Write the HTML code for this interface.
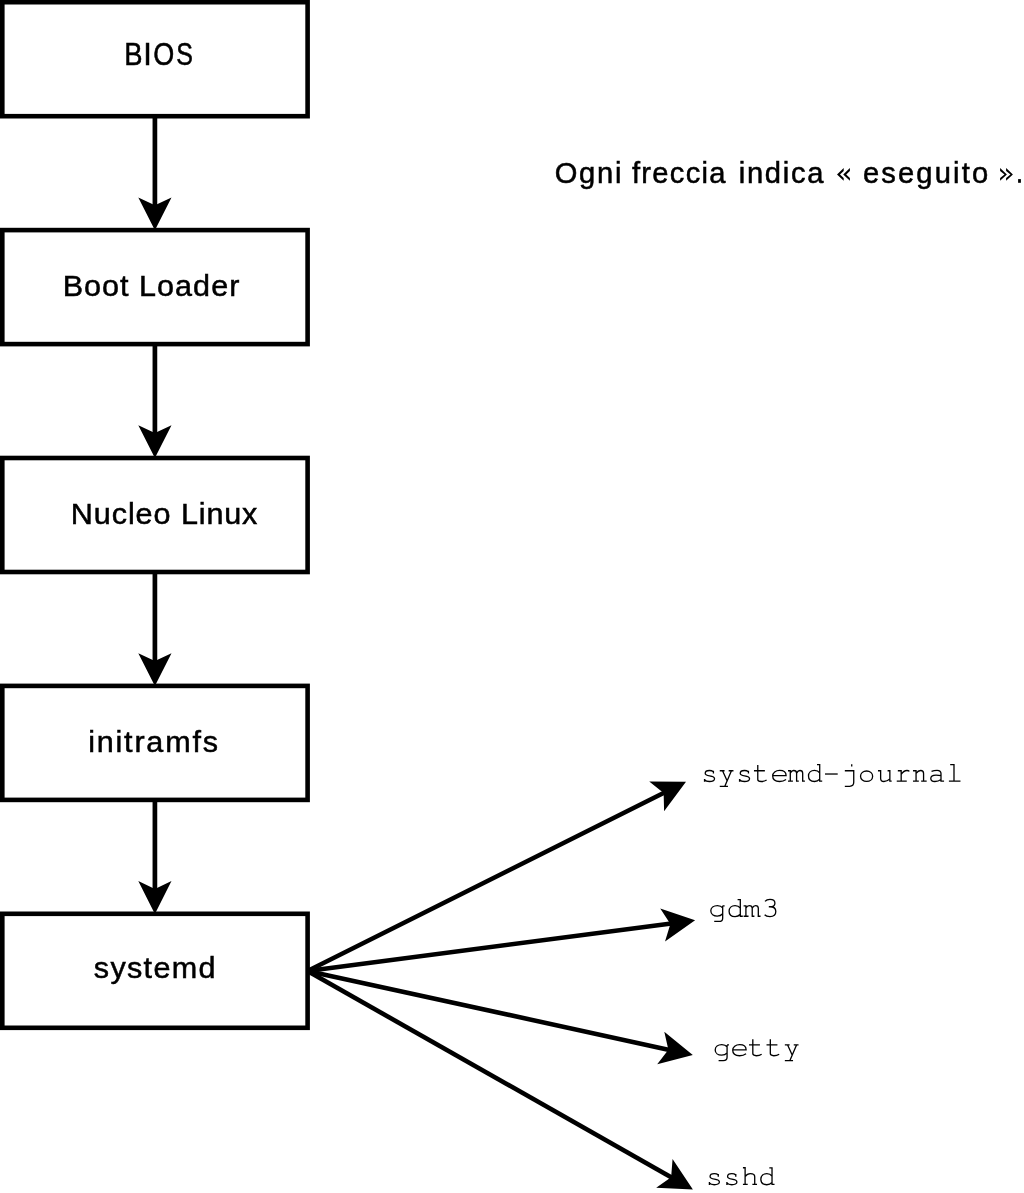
<!DOCTYPE html>
<html><head><meta charset="utf-8"><style>
html,body{margin:0;padding:0;background:#fff;width:1024px;height:1193px;overflow:hidden}
svg{display:block;will-change:transform}
.s{font-family:"Liberation Sans",sans-serif}
.m{font-family:"Liberation Mono",monospace}
</style></head><body>
<svg width="1024" height="1193" viewBox="0 0 1024 1193">
<rect x="0" y="0" width="1024" height="1193" fill="#fff"/>
<rect x="2.3" y="2.2" width="305.3" height="114" fill="none" stroke="#000" stroke-width="4.6"/>
<rect x="2.3" y="230.1" width="305.3" height="114" fill="none" stroke="#000" stroke-width="4.6"/>
<rect x="2.3" y="458" width="305.3" height="114" fill="none" stroke="#000" stroke-width="4.6"/>
<rect x="2.3" y="685.9" width="305.3" height="114" fill="none" stroke="#000" stroke-width="4.6"/>
<rect x="2.3" y="913.8" width="305.3" height="114" fill="none" stroke="#000" stroke-width="4.6"/>
<line x1="154.9" y1="117.5" x2="154.9" y2="206.2" stroke="#000" stroke-width="4.7"/>
<polygon points="154.9,230.2 138.3,197.4 154.9,205.2 171.5,197.4" fill="#000"/>
<line x1="154.9" y1="345.4" x2="154.9" y2="434.1" stroke="#000" stroke-width="4.7"/>
<polygon points="154.9,458.1 138.3,425.3 154.9,433.1 171.5,425.3" fill="#000"/>
<line x1="154.9" y1="573.3" x2="154.9" y2="662" stroke="#000" stroke-width="4.7"/>
<polygon points="154.9,686 138.3,653.2 154.9,661 171.5,653.2" fill="#000"/>
<line x1="154.9" y1="801.2" x2="154.9" y2="889.9" stroke="#000" stroke-width="4.7"/>
<polygon points="154.9,913.9 138.3,881.1 154.9,888.9 171.5,881.1" fill="#000"/>
<line x1="307.5" y1="971" x2="664.53" y2="792.44" stroke="#000" stroke-width="4.6"/>
<polygon points="686,781.7 664.09,811.22 663.64,792.88 649.24,781.52" fill="#000"/>
<line x1="307.5" y1="971" x2="671.3" y2="923.41" stroke="#000" stroke-width="4.6"/>
<polygon points="695.1,920.3 665.02,941.44 670.36,923.89 660.26,908.58" fill="#000"/>
<line x1="307.5" y1="971" x2="669.35" y2="1049.89" stroke="#000" stroke-width="4.6"/>
<polygon points="692.8,1055 657.22,1064.23 668.37,1049.67 664.29,1031.79" fill="#000"/>
<line x1="307.5" y1="971" x2="672.02" y2="1177.76" stroke="#000" stroke-width="4.6"/>
<polygon points="692.9,1189.6 656.18,1187.86 671.15,1177.27 672.56,1158.98" fill="#000"/>
<text class="s" transform="translate(124.14 64.90) scale(0.9313 1.0550)" font-size="29.4" letter-spacing="0.000" stroke="#000" stroke-width="0.5">B</text>
<text class="s" transform="translate(143.20 64.90) scale(1.0500 1.0550)" font-size="29.4" letter-spacing="0.000" stroke="#000" stroke-width="0.5">I</text>
<text class="s" transform="translate(153.18 64.90) scale(0.9190 1.0550)" font-size="29.4" letter-spacing="0.000" stroke="#000" stroke-width="0.5">O</text>
<text class="s" transform="translate(176.15 64.90) scale(0.8500 1.0550)" font-size="29.4" letter-spacing="0.000" stroke="#000" stroke-width="0.5">S</text>
<text class="s" transform="translate(62.82 295.80) scale(1.0400 0.9955)" font-size="29.4" letter-spacing="0.878" stroke="#000" stroke-width="0.5">Boot</text>
<text class="s" transform="translate(138.92 295.80) scale(1.0400 0.9955)" font-size="29.4" letter-spacing="1.027" stroke="#000" stroke-width="0.5">Loader</text>
<text class="s" transform="translate(70.82 523.90) scale(1.0400 0.9909)" font-size="29.4" letter-spacing="0.873" stroke="#000" stroke-width="0.5">Nucleo</text>
<text class="s" transform="translate(180.92 523.90) scale(1.0400 0.9909)" font-size="29.4" letter-spacing="0.813" stroke="#000" stroke-width="0.5">Linux</text>
<text class="s" transform="translate(88.17 751.50) scale(1.0400 0.9773)" font-size="29.4" letter-spacing="1.722" stroke="#000" stroke-width="0.5">initramfs</text>
<text class="s" transform="translate(93.86 977.90) scale(1.0400 1.0000)" font-size="29.4" letter-spacing="1.253" stroke="#000" stroke-width="0.5">systemd</text>
<text class="s" transform="translate(554.66 182.80) scale(1.0400 1.0850)" font-size="28" letter-spacing="1.673" stroke="#000" stroke-width="0.5">Ogni</text>
<text class="s" transform="translate(631.90 182.80) scale(1.0400 1.0850)" font-size="28" letter-spacing="1.263" stroke="#000" stroke-width="0.5">freccia</text>
<text class="s" transform="translate(738.72 182.80) scale(1.0400 1.0850)" font-size="28" letter-spacing="1.646" stroke="#000" stroke-width="0.5">indica</text>
<text class="s" transform="translate(862.96 182.80) scale(1.0400 1.0850)" font-size="28" letter-spacing="2.066" stroke="#000" stroke-width="0.5">eseguito</text>
<g fill="none" stroke="#000" stroke-width="45"><path transform="translate(700.85 781.7) scale(0.0291 -0.0291)" d="M 432,278 L 432,376 M 432,344 C 395,372 350,385 295,385 C 205,385 150,347 150,291 C 150,229 210,213 300,199 C 400,184 470,163 470,102 C 470,39 400,6 295,6 C 215,6 160,28 127,67 M 127,-2 L 127,97"/><path transform="translate(718.36 781.7) scale(0.0291 -0.0291)" d="M 48,376 L 213,376 M 354,376 L 519,376 M 144,376 L 300,32 M 450,376 L 222,-160 M 48,-160 L 330,-160"/><path transform="translate(735.87 781.7) scale(0.0291 -0.0291)" d="M 432,278 L 432,376 M 432,344 C 395,372 350,385 295,385 C 205,385 150,347 150,291 C 150,229 210,213 300,199 C 400,184 470,163 470,102 C 470,39 400,6 295,6 C 215,6 160,28 127,67 M 127,-2 L 127,97"/><path transform="translate(753.38 781.7) scale(0.0291 -0.0291)" d="M 151,575 L 151,79 C 151,30 190,6 270,6 C 345,6 405,23 455,56 M 20,376 L 395,376"/><path transform="translate(770.89 781.7) scale(0.0291 -0.0291)" d="M 62,210 L 522,210 C 522,319 430,387 300,387 C 165,387 62,305 62,194 C 62,76 160,6 300,6 C 390,6 460,28 520,74"/><path transform="translate(788.40 781.7) scale(0.0291 -0.0291)" d="M -14,376 L 65,376 L 65,18 M 65,296 C 95,356 135,385 180,385 C 245,385 282,352 282,291 L 282,18 M 282,296 C 312,356 352,385 397,385 C 460,385 491,352 491,291 L 491,18 M -14,18 L 155,18 M 261,18 L 357,18 M 467,18 L 567,18"/><path transform="translate(805.91 781.7) scale(0.0291 -0.0291)" d="M 381,588 L 474,588 L 474,18 L 560,18 M 474,301 C 430,361 370,387 295,387 C 170,387 89,305 89,194 C 89,81 170,6 295,6 C 370,6 430,37 474,88"/><path transform="translate(823.42 781.7) scale(0.0291 -0.0291)" d="M 55,264 L 491,264"/><path transform="translate(840.93 781.7) scale(0.0291 -0.0291)" d="M 371,520 L 371,600 M 134,376 L 440,376 L 440,-23 C 440,-117 390,-160 300,-160 L 134,-160"/><path transform="translate(858.44 781.7) scale(0.0291 -0.0291)" d="M 280,11 C 165,11 72,83 72,190 C 72,296 165,368 280,368 C 395,368 488,296 488,190 C 488,83 395,11 280,11 Z"/><path transform="translate(875.95 781.7) scale(0.0291 -0.0291)" d="M 69,376 L 161,376 L 161,111 C 161,37 200,6 275,6 C 360,6 425,42 478,97 M 400,376 L 478,376 L 478,18 L 540,18"/><path transform="translate(893.46 781.7) scale(0.0291 -0.0291)" d="M 150,376 L 265,376 L 265,18 M 113,18 L 457,18 M 265,250 C 320,338 390,385 465,385 C 505,385 532,372 548,353"/><path transform="translate(910.97 781.7) scale(0.0291 -0.0291)" d="M 69,376 L 175,376 L 175,18 M 69,18 L 270,18 M 175,282 C 220,350 272,385 335,385 C 400,385 433,350 433,282 L 433,18 M 350,18 L 540,18"/><path transform="translate(928.48 781.7) scale(0.0291 -0.0291)" d="M 105,356 C 160,376 225,387 295,387 C 385,387 430,352 430,278 L 430,18 L 536,18 M 430,208 C 370,222 320,227 260,227 C 150,227 79,185 79,111 C 79,46 130,6 220,6 C 300,6 375,32 430,74"/><path transform="translate(945.99 781.7) scale(0.0291 -0.0291)" d="M 144,590 L 275,590 L 275,18 M 100,18 L 498,18"/></g>
<g fill="none" stroke="#000" stroke-width="45"><path transform="translate(709.00 916.8) scale(0.0291 -0.0291)" d="M 470,376 L 536,376 M 470,376 L 470,-47 C 470,-126 420,-160 340,-160 L 179,-160 M 470,310 C 430,363 370,387 290,387 C 160,387 62,314 62,205 C 62,96 160,26 282,26 C 362,26 430,57 470,104"/><path transform="translate(726.51 916.8) scale(0.0291 -0.0291)" d="M 381,588 L 474,588 L 474,18 L 560,18 M 474,301 C 430,361 370,387 295,387 C 170,387 89,305 89,194 C 89,81 170,6 295,6 C 370,6 430,37 474,88"/><path transform="translate(744.02 916.8) scale(0.0291 -0.0291)" d="M -14,376 L 65,376 L 65,18 M 65,296 C 95,356 135,385 180,385 C 245,385 282,352 282,291 L 282,18 M 282,296 C 312,356 352,385 397,385 C 460,385 491,352 491,291 L 491,18 M -14,18 L 155,18 M 261,18 L 357,18 M 467,18 L 567,18"/><path transform="translate(761.53 916.8) scale(0.0291 -0.0291)" d="M120,528 C160,578 220,600 290,600 C390,600 460,545 460,468 C460,390 390,345 290,345 L250,345 M290,345 C420,345 490,280 490,180 C490,70 410,6 290,6 C210,6 140,30 107,70"/></g>
<g fill="none" stroke="#000" stroke-width="45"><path transform="translate(713.40 1055.9) scale(0.0291 -0.0291)" d="M 470,376 L 536,376 M 470,376 L 470,-47 C 470,-126 420,-160 340,-160 L 179,-160 M 470,310 C 430,363 370,387 290,387 C 160,387 62,314 62,205 C 62,96 160,26 282,26 C 362,26 430,57 470,104"/><path transform="translate(730.91 1055.9) scale(0.0291 -0.0291)" d="M 62,210 L 522,210 C 522,319 430,387 300,387 C 165,387 62,305 62,194 C 62,76 160,6 300,6 C 390,6 460,28 520,74"/><path transform="translate(748.42 1055.9) scale(0.0291 -0.0291)" d="M 151,575 L 151,79 C 151,30 190,6 270,6 C 345,6 405,23 455,56 M 20,376 L 395,376"/><path transform="translate(765.93 1055.9) scale(0.0291 -0.0291)" d="M 151,575 L 151,79 C 151,30 190,6 270,6 C 345,6 405,23 455,56 M 20,376 L 395,376"/><path transform="translate(783.44 1055.9) scale(0.0291 -0.0291)" d="M 48,376 L 213,376 M 354,376 L 519,376 M 144,376 L 300,32 M 450,376 L 222,-160 M 48,-160 L 330,-160"/></g>
<g fill="none" stroke="#000" stroke-width="45"><path transform="translate(705.70 1184.9) scale(0.0291 -0.0291)" d="M 432,278 L 432,376 M 432,344 C 395,372 350,385 295,385 C 205,385 150,347 150,291 C 150,229 210,213 300,199 C 400,184 470,163 470,102 C 470,39 400,6 295,6 C 215,6 160,28 127,67 M 127,-2 L 127,97"/><path transform="translate(723.21 1184.9) scale(0.0291 -0.0291)" d="M 432,278 L 432,376 M 432,344 C 395,372 350,385 295,385 C 205,385 150,347 150,291 C 150,229 210,213 300,199 C 400,184 470,163 470,102 C 470,39 400,6 295,6 C 215,6 160,28 127,67 M 127,-2 L 127,97"/><path transform="translate(740.72 1184.9) scale(0.0291 -0.0291)" d="M 76,590 L 151,590 L 151,18 M 76,18 L 240,18 M 151,282 C 200,352 260,385 330,385 C 420,385 481,344 481,278 L 481,18 M 400,18 L 560,18"/><path transform="translate(758.23 1184.9) scale(0.0291 -0.0291)" d="M 381,588 L 474,588 L 474,18 L 560,18 M 474,301 C 430,361 370,387 295,387 C 170,387 89,305 89,194 C 89,81 170,6 295,6 C 370,6 430,37 474,88"/></g>
<polygon points="843.70,168.00 843.70,171.00 840.00,174.50 843.70,178.00 843.70,180.80 837.00,174.50" fill="#000"/><polygon points="849.90,168.00 849.90,171.00 846.20,174.50 849.90,178.00 849.90,180.80 843.20,174.50" fill="#000"/><polygon points="1000.10,168.10 1006.90,174.50 1000.10,180.80 1000.10,177.90 1004.50,174.50 1000.10,171.10" fill="#000"/><polygon points="1006.10,168.10 1012.90,174.50 1006.10,180.80 1006.10,177.90 1010.50,174.50 1006.10,171.10" fill="#000"/><rect x="1018.1" y="179.1" width="2.8" height="3.7" fill="#000"/>
</svg>
</body></html>
